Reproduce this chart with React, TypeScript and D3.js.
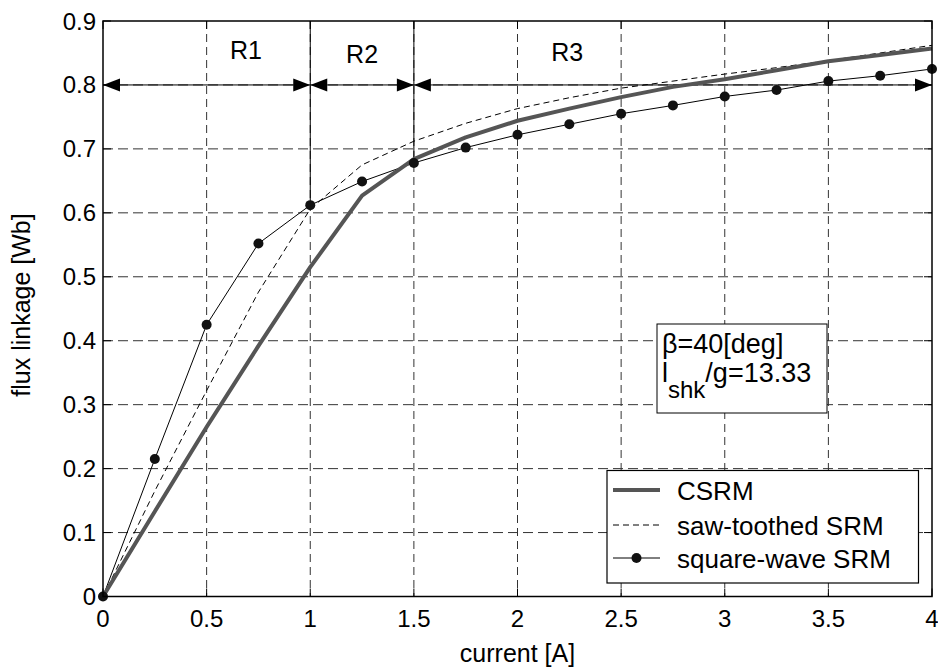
import React from 'react';
import * as d3 from 'd3';

const currentA = [0, 0.25, 0.5, 0.75, 1, 1.25, 1.5, 1.75, 2, 2.25, 2.5, 2.75, 3, 3.25, 3.5, 3.75, 4];
const csrm = [0, 0.133, 0.265, 0.392, 0.515, 0.627, 0.684, 0.718, 0.744, 0.763, 0.781, 0.797, 0.809, 0.823, 0.837, 0.847, 0.857];
const sawToothed = [0, 0.165, 0.322, 0.476, 0.606, 0.675, 0.712, 0.74, 0.763, 0.78, 0.795, 0.806, 0.817, 0.827, 0.838, 0.85, 0.862];
const squareWave = [0, 0.215, 0.425, 0.552, 0.612, 0.649, 0.678, 0.702, 0.722, 0.7385, 0.755, 0.768, 0.782, 0.792, 0.806, 0.8145, 0.825];

const xTicks = [0, 0.5, 1, 1.5, 2, 2.5, 3, 3.5, 4];
const yTicks = [0, 0.1, 0.2, 0.3, 0.4, 0.5, 0.6, 0.7, 0.8, 0.9];
const regionBounds = [0, 1, 1.5, 4];
const regionLabels = ['R1', 'R2', 'R3'];
const regionLabelX = [0.69, 1.25, 2.24];
const arrowLevel = 0.8;
const legendNames = ['CSRM', 'saw-toothed SRM', 'square-wave SRM'];

const W = 938, H = 671;
const L = 103, R = 932, T = 21, B = 596.5;
const FONT = '"Liberation Sans", Arial, Helvetica, sans-serif';

export default function App() {
  const x = d3.scaleLinear().domain([0, 4]).range([L, R]);
  const y = d3.scaleLinear().domain([0, 0.9]).range([B, T]);
  const line = (vals: number[]) =>
    d3.line<number>().x((_, i) => x(currentA[i])).y((d) => y(d))(vals) || '';

  const ay = y(arrowLevel);
  const aw = 17, ah = 6.5;
  const arrowHeads: JSX.Element[] = [];
  for (let k = 0; k < regionBounds.length - 1; k++) {
    const a = x(regionBounds[k]), b = x(regionBounds[k + 1]);
    arrowHeads.push(
      <path key={'l' + k} d={`M${a},${ay} L${a + aw},${ay - ah} L${a + aw},${ay + ah} Z`} fill="#000" />,
      <path key={'r' + k} d={`M${b},${ay} L${b - aw},${ay - ah} L${b - aw},${ay + ah} Z`} fill="#000" />
    );
  }

  const lx0 = 613, lx1 = 660, ltx = 677;
  const lys = [490, 525, 558];

  return (
    <svg width={W} height={H} style={{ position: 'absolute', left: 0, top: 0, background: '#fff' }} fontFamily={FONT}>
      <rect x={0} y={0} width={W} height={H} fill="#fff" />
      {/* grid */}
      {xTicks.slice(1, -1).map((t) => (
        <line key={'gx' + t} x1={x(t)} x2={x(t)} y1={T} y2={B} stroke="#333" strokeWidth={1} strokeDasharray="8,5" />
      ))}
      {yTicks.slice(1, -1).map((t) => (
        <line key={'gy' + t} x1={L} x2={R} y1={y(t)} y2={y(t)} stroke="#333" strokeWidth={1} strokeDasharray="10,5" />
      ))}
      {/* ticks inward */}
      {xTicks.map((t) => (
        <g key={'tx' + t}>
          <line x1={x(t)} x2={x(t)} y1={B} y2={B - 8} stroke="#000" />
          <line x1={x(t)} x2={x(t)} y1={T} y2={T + 8} stroke="#000" />
        </g>
      ))}
      {yTicks.map((t) => (
        <g key={'ty' + t}>
          <line x1={L} x2={L + 8} y1={y(t)} y2={y(t)} stroke="#000" />
          <line x1={R} x2={R - 8} y1={y(t)} y2={y(t)} stroke="#000" />
        </g>
      ))}
      {/* region markers */}
      <line x1={x(1)} x2={x(1)} y1={T} y2={y(squareWave[4])} stroke="#000" strokeWidth={1} />
      <line x1={x(1.5)} x2={x(1.5)} y1={T} y2={y(squareWave[6])} stroke="#000" strokeWidth={1} />
      <line x1={x(0)} x2={x(4)} y1={ay} y2={ay} stroke="#000" strokeWidth={1} />
      {arrowHeads}
      {regionLabels.map((r, i) => (
        <text key={r} x={x(regionLabelX[i])} y={[59, 63, 61][i]} fontSize={25} textAnchor="middle" fill="#000">{r}</text>
      ))}
      {/* series */}
      <path d={line(sawToothed)} fill="none" stroke="#000" strokeWidth={1} strokeDasharray="6,4" />
      <path d={line(squareWave)} fill="none" stroke="#000" strokeWidth={1} />
      <path d={line(csrm)} fill="none" stroke="#555" strokeWidth={4} strokeLinejoin="round" />
      {squareWave.map((v, i) => (
        <circle key={'d' + i} cx={x(currentA[i])} cy={y(v)} r={5} fill="#111" />
      ))}
      {/* axes box */}
      <rect x={L} y={T} width={R - L} height={B - T} fill="none" stroke="#000" strokeWidth={1.5} />
      {/* tick labels */}
      {xTicks.map((t) => (
        <text key={'lx' + t} x={x(t)} y={627} fontSize={24} textAnchor="middle">{String(t)}</text>
      ))}
      {yTicks.map((t) => (
        <text key={'ly' + t} x={96} y={y(t) + 8.5} fontSize={24} textAnchor="end">{String(Math.round(t * 10) / 10)}</text>
      ))}
      <text x={(L + R) / 2} y={662} fontSize={25} textAnchor="middle">current [A]</text>
      <text transform={`translate(30,305) rotate(-90)`} fontSize={25} textAnchor="middle">flux linkage [Wb]</text>
      {/* annotation box */}
      <rect x={657} y={324} width={170} height={89} fill="#fff" stroke="#000" strokeWidth={1} />
      <text x={662} y={353} fontSize={27}>β=40[deg]</text>
      <text x={662} y={382} fontSize={27}>
        l<tspan dy={16} fontSize={24}>shk</tspan><tspan dy={-16} fontSize={27}>/g=13.33</tspan>
      </text>
      {/* legend */}
      <rect x={607} y={470.5} width={311.5} height={112.5} fill="#fff" stroke="#000" strokeWidth={1.2} />
      <line x1={lx0} x2={lx1} y1={lys[0]} y2={lys[0]} stroke="#555" strokeWidth={4} />
      <line x1={lx0} x2={lx1} y1={lys[1]} y2={lys[1]} stroke="#000" strokeWidth={1} strokeDasharray="6,4" />
      <line x1={lx0} x2={lx1} y1={lys[2]} y2={lys[2]} stroke="#000" strokeWidth={1} />
      <circle cx={(lx0 + lx1) / 2} cy={lys[2]} r={5} fill="#111" />
      {legendNames.map((n, i) => (
        <text key={n} x={ltx} y={lys[i] + 9.5} fontSize={26}>{n}</text>
      ))}
    </svg>
  );
}
